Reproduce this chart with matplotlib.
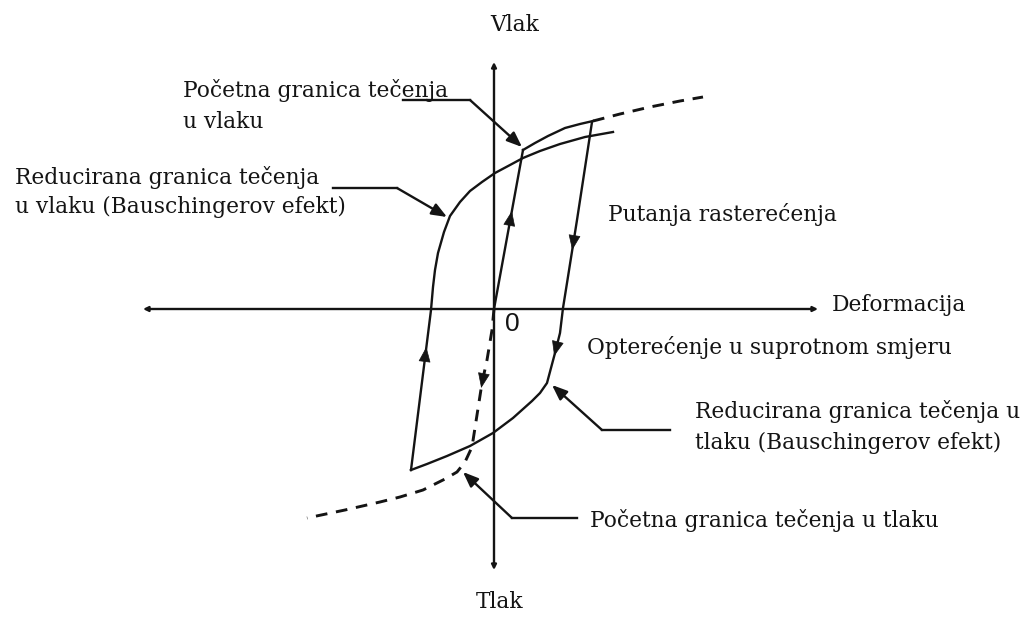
import numpy as np
import matplotlib
matplotlib.use("Agg")
import matplotlib.pyplot as plt

# deformacija (x) i naprezanje (y), proizvoljne jedinice
# elasticno opterecenje u vlaku
load_x = [0.0, 0.29]
load_y = [0.0, 1.59]

# ocvrscivanje nakon pocetne granice tecenja
hard_x = [0.29, 0.41, 0.54, 0.71, 0.86, 0.99]
hard_y = [1.59, 1.66, 1.73, 1.81, 1.85, 1.88]

# monotona krivulja u vlaku (isprekidano)
mono_t_x = [0.99, 1.03, 1.26, 1.56, 1.86, 2.09]
mono_t_y = [1.88, 1.89, 1.95, 2.02, 2.08, 2.12]

# rasterecenje i opterecenje u suprotnom smjeru
unl_x = [0.98, 0.83, 0.73, 0.69, 0.66, 0.61, 0.53, 0.46, 0.38, 0.19, -0.01, -0.24, -0.47, -0.67, -0.83]
unl_y = [1.87, 0.89, 0.26, 0.01, -0.24, -0.44, -0.74, -0.84, -0.92, -1.09, -1.24, -1.37, -1.47, -1.55, -1.61]

# ponovno opterecenje u vlaku
rel_x = [-0.83, -0.73, -0.63, -0.61, -0.59, -0.56, -0.50, -0.44, -0.34, -0.24, -0.12, 0.01, 0.16, 0.29,
         0.46, 0.66, 0.91, 1.19]
rel_y = [-1.61, -0.81, -0.01, 0.22, 0.39, 0.56, 0.77, 0.93, 1.07, 1.18, 1.27, 1.36, 1.44, 1.51,
         1.58, 1.65, 1.72, 1.77]

# monotona krivulja u tlaku (isprekidano)
mono_c_x = [0.0, -0.02, -0.07, -0.12, -0.17, -0.22, -0.29, -0.37, -0.49, -0.71, -0.94, -1.14, -1.49, -1.87]
mono_c_y = [0.0, -0.21, -0.51, -0.74, -1.06, -1.38, -1.53, -1.63, -1.70, -1.81, -1.88, -1.93, -2.01, -2.09]

FONT = "DejaVu Serif"
FS = 15.7
LW = 1.7
C = "#141414"

fig = plt.figure(figsize=(10.3, 6.17), dpi=100)
ax = fig.add_axes([0, 0, 1, 1])
ax.set_xlim(-4.94, 5.36)
ax.set_ylim(-3.08, 3.09)
ax.axis("off")

# osi
ax.annotate("", xy=(3.24, 0), xytext=(-3.51, 0),
            arrowprops=dict(arrowstyle="<|-|>", lw=LW, color=C, mutation_scale=7, shrinkA=0, shrinkB=0))
ax.annotate("", xy=(0, 2.47), xytext=(0, -2.61),
            arrowprops=dict(arrowstyle="<|-|>", lw=LW, color=C, mutation_scale=7, shrinkA=0, shrinkB=0))

# krivulje
ax.plot(load_x, load_y, color=C, lw=LW)
ax.plot(hard_x, hard_y, color=C, lw=LW)
ax.plot(unl_x, unl_y, color=C, lw=LW)
ax.plot(rel_x, rel_y, color=C, lw=LW)
ax.plot(mono_t_x, mono_t_y, color=C, lw=LW + 0.4, ls=(0, (4, 3)))
ax.plot(mono_c_x, mono_c_y, color=C, lw=LW + 0.4, ls=(0, (4, 3)))

HEAD = "-|>,head_length=0.7,head_width=0.28"


def curve_arrow(xs, ys, y_at, up):
    # strelica smjera na krivulji kod zadane vrijednosti y
    xs = np.asarray(xs)
    ys = np.asarray(ys)
    order = np.argsort(ys)
    d = 0.05
    x1 = np.interp(y_at - d, ys[order], xs[order])
    x2 = np.interp(y_at + d, ys[order], xs[order])
    start, end = ((x1, y_at - d), (x2, y_at + d)) if up else ((x2, y_at + d), (x1, y_at - d))
    ax.annotate("", xy=end, xytext=start,
                arrowprops=dict(arrowstyle=HEAD, lw=0.5, color=C,
                                mutation_scale=14, shrinkA=0, shrinkB=0))


curve_arrow(load_x, load_y, 0.93, True)
curve_arrow(rel_x[:4], rel_y[:4], -0.43, True)
curve_arrow(unl_x[:4], unl_y[:4], 0.64, False)
curve_arrow(unl_x[3:8], unl_y[3:8], -0.42, False)
curve_arrow(mono_c_x[:6], mono_c_y[:6], -0.74, False)

# pokazne linije s oznakama
leaders = [
    [(-0.91, 2.09), (-0.24, 2.09), (0.28, 1.62)],
    [(-1.61, 1.21), (-0.97, 1.21), (-0.47, 0.92)],
    [(1.76, -1.21), (1.08, -1.21), (0.58, -0.76)],
    [(0.83, -2.09), (0.18, -2.09), (-0.31, -1.63)],
]
for p0, p1, tip in leaders:
    ax.plot([p0[0], p1[0]], [p0[1], p1[1]], color=C, lw=LW)
    ax.annotate("", xy=tip, xytext=p1,
                arrowprops=dict(arrowstyle=HEAD, lw=LW, color=C,
                                mutation_scale=13, shrinkA=0, shrinkB=0))

labels = [
    ("Vlak", 0.21, 2.84, "center"),
    ("Tlak", 0.06, -2.93, "center"),
    ("Početna granica tečenja", -3.11, 2.19, "left"),
    ("u vlaku", -3.11, 1.87, "left"),
    ("Reducirana granica tečenja", -4.79, 1.31, "left"),
    ("u vlaku (Bauschingerov efekt)", -4.79, 1.02, "left"),
    ("Putanja rasterećenja", 1.14, 0.94, "left"),
    ("Deformacija", 3.38, 0.04, "left"),
    ("Opterećenje u suprotnom smjeru", 0.93, -0.39, "left"),
    ("Reducirana granica tečenja u", 2.01, -1.03, "left"),
    ("tlaku (Bauschingerov efekt)", 2.01, -1.34, "left"),
    ("Početna granica tečenja u tlaku", 0.96, -2.11, "left"),
]
for txt, x, y, ha in labels:
    ax.text(x, y, txt, ha=ha, va="center", fontsize=FS, family=FONT, color=C)

ax.text(0.18, -0.15, "0", ha="center", va="center", fontsize=19, family="Liberation Sans", color=C)

fig.savefig("out.png", dpi=100)
